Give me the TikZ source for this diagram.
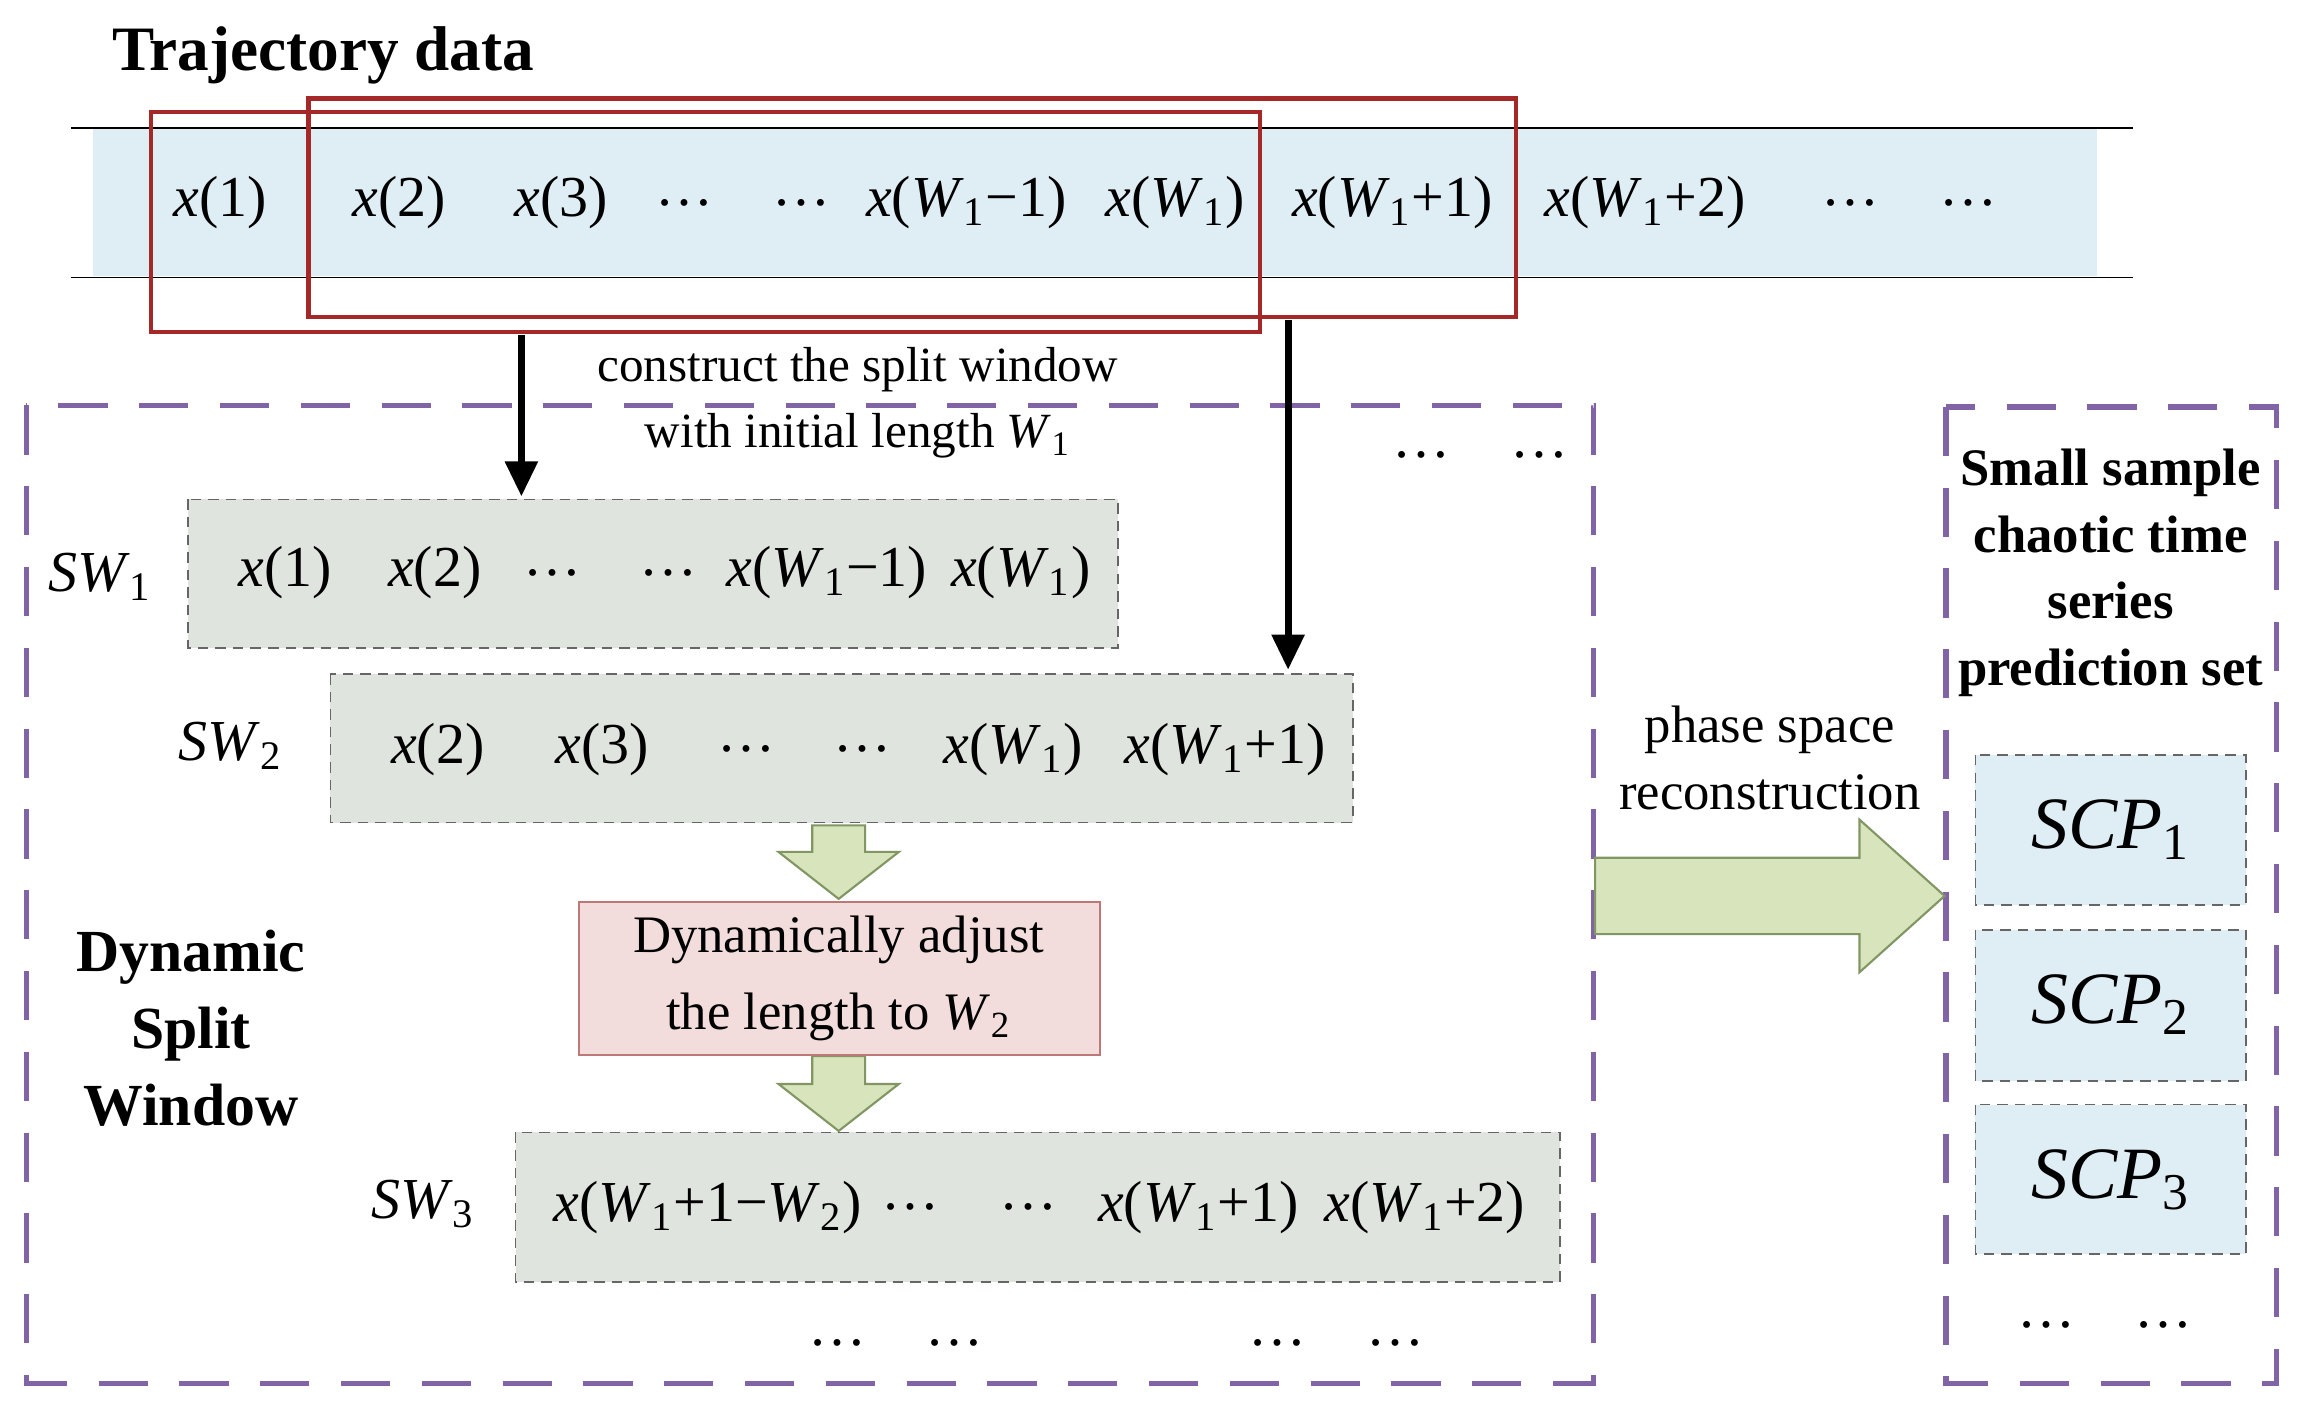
\documentclass[tikz,border=0pt]{standalone}
\usepackage{fontspec}
\setmainfont{Liberation Serif}
\usetikzlibrary{arrows.meta}
\definecolor{lblue}{RGB}{222,238,244}
\definecolor{dred}{RGB}{165,40,40}
\definecolor{purp}{RGB}{128,100,165}
\definecolor{gbox}{RGB}{224,228,222}
\definecolor{gfill}{RGB}{216,228,188}
\definecolor{gline}{RGB}{130,150,100}
\definecolor{pinkf}{RGB}{242,220,220}
\definecolor{pinkl}{RGB}{190,120,120}
\newcommand{\vx}{\textit{x}}
\newcommand{\vW}[1]{\textit{W}\textsubscript{#1}}
\begin{document}
\begin{tikzpicture}[x=0.014688cm,y=-0.014688cm,
  itm/.style={font=\fontsize{16.5}{20}\selectfont,inner sep=0pt},
  lbl/.style={font=\fontsize{14}{17}\selectfont,inner sep=0pt,align=center},
  bld/.style={font=\fontsize{16}{19}\selectfont\bfseries,inner sep=0pt,align=center},
  swbox/.style={draw=gray!80!black,densely dashed,fill=gbox,line width=0.5pt},
  scpbox/.style={draw=gray!80!black,densely dashed,fill=lblue,line width=0.5pt},
  purpbox/.style={draw=purp,line width=1.6pt,dash pattern=on 14pt off 9pt},
  redbox/.style={draw=dred,line width=1.2pt},
  blk/.style={-{Triangle[length=10pt,width=9pt]},line width=2pt},
  garrow/.style={draw=gline,fill=gfill,line width=0.6pt}]
\useasboundingbox (0,0) rectangle (1568,971);
\node[bld,font=\fontsize{18}{21}\selectfont\bfseries] (title) at (220,38) {Trajectory data};
\fill[lblue] (63,88) rectangle (1428,188);
\draw[line width=0.5pt] (48,87) -- (1452,87) (48,189) -- (1452,189);
\draw[redbox] (103,76) rectangle (858,226);
\draw[redbox] (210,67) rectangle (1032,216);
\node[itm] (t1) at (150,138) {\vx(1)};
\node[itm] (t2) at (272,138) {\vx(2)};
\node[itm] (t3) at (382,138) {\vx(3)};
\node[itm] (t4) at (466,138) {\dots};
\node[itm] (t5) at (546,138) {\dots};
\node[itm] (t6) at (658,138) {\vx(\vW1−1)};
\node[itm] (t7) at (800,138) {\vx(\vW1)};
\node[itm] (t8) at (948,138) {\vx(\vW1+1)};
\node[itm] (t9) at (1120,138) {\vx(\vW1+2)};
\node[itm] (t10) at (1260,138) {\dots};
\node[itm] (t11) at (1340,138) {\dots};
\draw[purpbox] (18,276) rectangle (1085,942);
\draw[purpbox] (1325,277) rectangle (1550,942);
\coordinate (a1s) at (355,228); \coordinate (a1e) at (355,338);
\coordinate (a2s) at (877,218); \coordinate (a2e) at (877,456);
\draw[blk] (a1s) -- (a1e);
\draw[blk] (a2s) -- (a2e);
\node[lbl] (c1) at (584,252) {construct the split window};
\node[lbl] (c2) at (584,297) {with initial length \vW1};
\node[itm] (d1) at (968,310) {\dots};
\node[itm] (d2) at (1048,310) {\dots};
% SW1
\path[swbox] (128,340) rectangle (761,441);
\node[itm] (l1) at (68,393) {\textit{SW}\textsubscript{1}};
\node[itm] at (194,390) {\vx(1)};
\node[itm] at (296,390) {\vx(2)};
\node[itm] at (376,390) {\dots};
\node[itm] at (455,390) {\dots};
\node[itm] at (563,390) {\vx(\vW1−1)};
\node[itm] at (695,390) {\vx(\vW1)};
% SW2
\path[swbox] (225,459) rectangle (921,560);
\node[itm] (l2) at (157,508) {\textit{SW}\textsubscript{2}};
\node[itm] at (298,510) {\vx(2)};
\node[itm] at (410,510) {\vx(3)};
\node[itm] at (508,510) {\dots};
\node[itm] at (587,510) {\dots};
\node[itm] at (690,510) {\vx(\vW1)};
\node[itm] at (834,510) {\vx(\vW1+1)};
% green down arrows
\path[garrow] (553,562) -- (589,562) -- (589,580) -- (612,580) -- (571,612) -- (530,580) -- (553,580) -- cycle;
\path[garrow] (553,719) -- (589,719) -- (589,738) -- (612,738) -- (571,770) -- (530,738) -- (553,738) -- cycle;
\path[draw=pinkl,fill=pinkf,line width=0.6pt] (394,614) rectangle (749,718);
\node[lbl,font=\fontsize{15}{18}\selectfont] (adj) at (571,666) {Dynamically adjust\\[4pt]the length to \vW2};
% SW3
\path[swbox] (351,771) rectangle (1062,873);
\node[itm] (l3) at (288,820) {\textit{SW}\textsubscript{3}};
\node[itm] at (482,822) {\vx(\vW1+1−\vW2)};
\node[itm] at (620,822) {\dots};
\node[itm] at (700,822) {\dots};
\node[itm] at (816,822) {\vx(\vW1+1)};
\node[itm] at (970,822) {\vx(\vW1+2)};
\foreach \xx in {570,650,870,950} \node[itm] at (\xx,914) {\dots};
\node[bld,font=\fontsize{17}{22}\selectfont\bfseries] (dsw) at (130,700) {Dynamic\\Split\\Window};
% big arrow
\path[garrow] (1086,584) -- (1266,584) -- (1266,558) -- (1324,610) -- (1266,662) -- (1266,636) -- (1086,636) -- cycle;
\node[lbl,font=\fontsize{15}{19}\selectfont] (psr) at (1205,516) {phase space\\reconstruction};
\node[bld,font=\fontsize{15}{19}\selectfont\bfseries] (sst) at (1437,390) {Small sample\\chaotic time\\series\\prediction set};
\path[scpbox] (1345,514) rectangle (1529,616);
\path[scpbox] (1345,633) rectangle (1529,736);
\path[scpbox] (1345,752) rectangle (1529,854);
\node[itm,font=\fontsize{21}{24}\selectfont] (s1) at (1437,565) {\textit{SCP}\textsubscript{1}};
\node[itm,font=\fontsize{21}{24}\selectfont] (s2) at (1437,684) {\textit{SCP}\textsubscript{2}};
\node[itm,font=\fontsize{21}{24}\selectfont] (s3) at (1437,803) {\textit{SCP}\textsubscript{3}};
\node[itm] at (1393,902) {\dots};
\node[itm] at (1473,902) {\dots};
\end{tikzpicture}
\end{document}
